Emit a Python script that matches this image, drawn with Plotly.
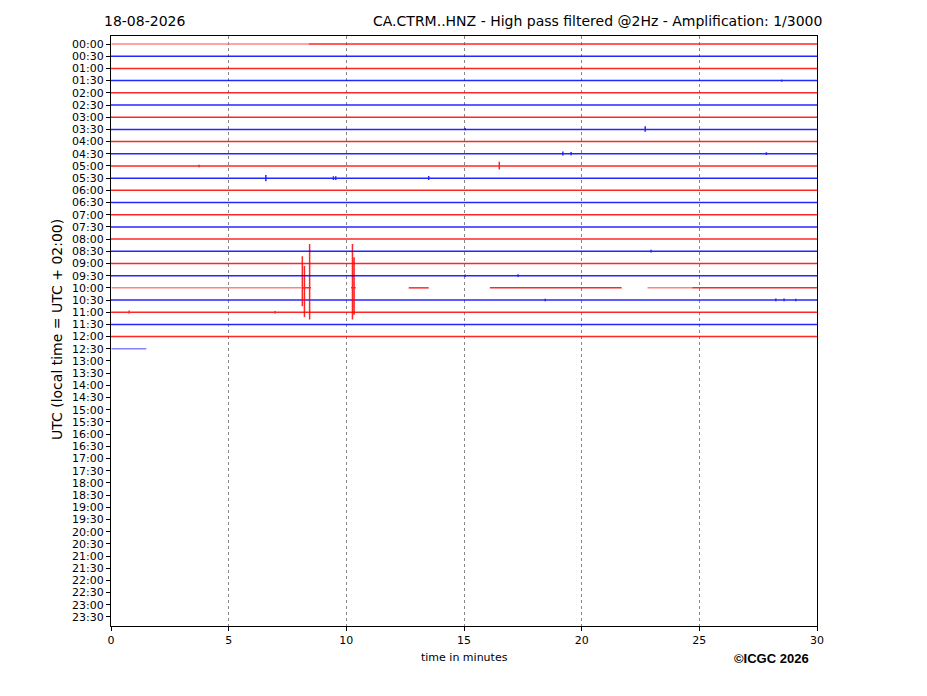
import plotly.graph_objects as go

# helicorder rows (30 min each), 00:00 .. 23:30
row_labels = ['00:00', '00:30', '01:00', '01:30', '02:00', '02:30', '03:00', '03:30',
              '04:00', '04:30', '05:00', '05:30', '06:00', '06:30', '07:00', '07:30',
              '08:00', '08:30', '09:00', '09:30', '10:00', '10:30', '11:00', '11:30',
              '12:00', '12:30', '13:00', '13:30', '14:00', '14:30', '15:00', '15:30',
              '16:00', '16:30', '17:00', '17:30', '18:00', '18:30', '19:00', '19:30',
              '20:00', '20:30', '21:00', '21:30', '22:00', '22:30', '23:00', '23:30']

# rows that have data so far
recorded_rows = row_labels[:26]

# segments (start min, end min, faint?) for rows that are not a full 0-30 trace
row_segments = {
    '00:00': [(0.02, 8.4, True), (8.4, 30, False)],
    '10:00': [(0.02, 8.1, True), (8.1, 8.5, False), (10.2, 10.4, False), (12.65, 13.5, False),
              (16.1, 21.7, False), (22.8, 24.7, True), (24.7, 30, False)],
    '12:30': [(0.02, 1.5, True)],
}

# events: row -> (minute, amplitude above, amplitude below), in row heights
events = {
    '01:30': [(28.5, 0.1, 0.1)],
    '03:30': [(15.05, 0.12, 0.1), (22.7, 0.25, 0.2)],
    '04:30': [(19.2, 0.18, 0.15), (19.55, 0.15, 0.12), (27.85, 0.12, 0.1)],
    '05:00': [(3.74, 0.1, 0.1), (16.5, 0.35, 0.3)],
    '05:30': [(6.58, 0.25, 0.25), (9.45, 0.15, 0.15), (9.55, 0.15, 0.15), (13.5, 0.18, 0.15)],
    '08:30': [(22.95, 0.12, 0.1)],
    '09:30': [(15.05, 0.1, 0.1), (17.3, 0.12, 0.1)],
    '10:00': [(8.13, 2.6, 1.5), (8.22, 1.8, 2.4), (8.44, 3.6, 2.6), (10.26, 3.6, 2.6), (10.33, 2.5, 2.2)],
    '10:30': [(18.45, 0.1, 0.1), (28.25, 0.12, 0.1), (28.6, 0.12, 0.1), (29.1, 0.1, 0.1)],
    '11:00': [(0.77, 0.15, 0.1), (6.97, 0.1, 0.1)],
}

x_ticks = [0, 5, 10, 15, 20, 25, 30]

fig = go.Figure()

for i in reversed(range(len(recorded_rows))):
    label = recorded_rows[i]
    dark = 'rgba(255,0,0,0.85)' if i % 2 == 0 else 'rgba(0,0,255,0.85)'
    faint = 'rgba(255,90,90,0.75)' if i % 2 == 0 else 'rgba(90,90,255,0.75)'
    segs = row_segments.get(label, [(0, 30, False)])
    for start, end, is_faint in segs:
        xs = [start]
        ys = [i]
        for t, up, down in events.get(label, []):
            if start <= t <= end:
                xs += [t, t, t, t]
                ys += [i, i - up, i + down, i]
        xs.append(end)
        ys.append(i)
        fig.add_trace(go.Scatter(
            x=xs, y=ys, mode='lines',
            line=dict(color=faint if is_faint else dark, width=1.5),
            showlegend=False, hoverinfo='skip'
        ))

fig.update_layout(
    width=927, height=696,
    margin=dict(l=103, r=118, t=28, b=78),
    paper_bgcolor='white', plot_bgcolor='white',
    font=dict(family='DejaVu Sans', size=11, color='black'),
    showlegend=False,
)

fig.update_xaxes(
    range=[0, 30], tickvals=x_ticks, ticktext=[str(v) for v in x_ticks],
    showline=True, mirror=True, linecolor='black', linewidth=1,
    ticks='outside', ticklen=4, tickcolor='black',
    showgrid=True, gridcolor='#888888', gridwidth=0.6, griddash='dot',
    zeroline=False,
)

fig.update_yaxes(
    range=[47.74, -0.66], tickvals=list(range(len(row_labels))), ticktext=row_labels,
    showline=True, mirror=True, linecolor='black', linewidth=1,
    ticks='outside', ticklen=4, tickcolor='black',
    showgrid=False, zeroline=False,
)

fig.add_annotation(text='18-08-2026', xref='paper', yref='paper',
                   x=-9 / 706, y=1 + 15 / 590, xanchor='left', yanchor='middle',
                   showarrow=False, font=dict(size=14))
fig.add_annotation(text='CA.CTRM..HNZ - High pass filtered @2Hz - Amplification: 1/3000',
                   xref='paper', yref='paper', x=713 / 706, y=1 + 15 / 590,
                   xanchor='right', yanchor='middle', showarrow=False, font=dict(size=14))
fig.add_annotation(text='time in minutes', xref='paper', yref='paper',
                   x=0.5, y=-31 / 590, xanchor='center', yanchor='middle',
                   showarrow=False, font=dict(size=11))
fig.add_annotation(text='UTC (local time = UTC + 02:00)', xref='paper', yref='paper',
                   x=-54 / 706, y=296 / 590, xanchor='center', yanchor='middle',
                   textangle=-90, showarrow=False, font=dict(size=14))
fig.add_annotation(text='<b>©ICGC 2026</b>', xref='paper', yref='paper',
                   x=700 / 706, y=-32 / 590, xanchor='right', yanchor='middle',
                   showarrow=False, font=dict(family='Liberation Sans', size=13))

fig.write_html("out.html")
